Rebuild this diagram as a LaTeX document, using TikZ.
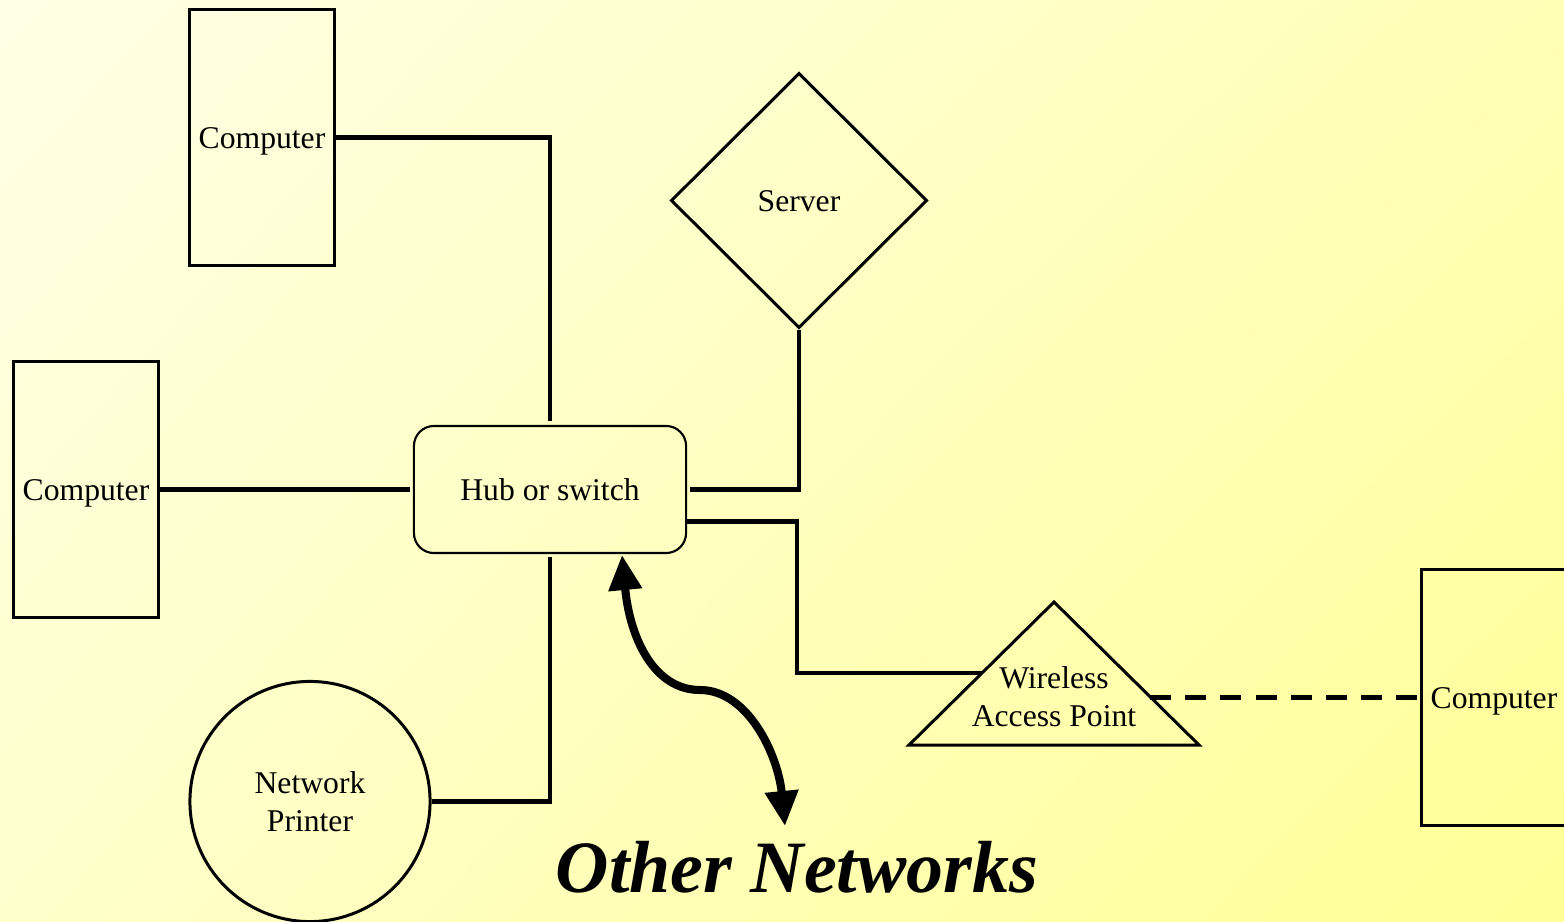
\documentclass[tikz,border=0pt]{standalone}
\usepackage{fontspec}
\setmainfont{Liberation Serif}
\usetikzlibrary{shapes.geometric,shadings,arrows.meta,positioning,calc}
\definecolor{bgpale}{RGB}{255,255,230}
\definecolor{bgtopr}{RGB}{255,255,182}
\definecolor{bgbotl}{RGB}{255,255,204}
\definecolor{bgyellow}{RGB}{255,255,150}

\begin{document}
\begin{tikzpicture}[x=0.01cm,y=-0.01cm,
    txt/.style={font=\fontsize{9}{10.8}\selectfont,align=center},
    oneline/.style={txt,text height=8pt,text depth=2pt},
    pcbox/.style={oneline,draw,line width=0.85pt,minimum width=1.44cm,minimum height=2.55cm,inner sep=0pt},
    link/.style={line width=1.2pt},
    >={Triangle[width=0.32cm,length=0.35cm]}]
  \clip (0,0) rectangle (1564,921);
  % background
  \shade[upper left=bgpale,upper right=bgtopr,lower left=bgbotl,lower right=bgyellow] (0,0) rectangle (1564,921);
  % devices
  \node[pcbox] (pc1) at (262,137.5) {Computer};
  \node[pcbox] (pc2) at (86,489.5) {Computer};
  \node[pcbox] (pc3) at (1494,697.5) {Computer};
  \node[oneline,draw,diamond,line width=0.85pt,minimum width=2.56cm,minimum height=2.55cm,inner sep=0pt] (server) at (799,200.5) {Server};
  \node[oneline,draw,rounded corners=0.2cm,line width=0.6pt,minimum width=2.72cm,minimum height=1.27cm] (hub) at (550,489.5) {Hub or switch};
  \node[txt,draw,circle,line width=0.85pt,minimum size=2.4cm,inner sep=0pt] (printer) at (310,801.5) {Network\\Printer};
  % wireless access point
  \draw[line width=0.85pt] (1054,602) -- (1199,745) -- (909,745) -- cycle;
  \node[txt,inner sep=0pt] (wap) at (1054,697) {Wireless\\Access Point};
  \coordinate (wapw) at (982,673);
  \coordinate (wape) at (1150,697.5);
  % cables
  \draw[link] (pc1.east) -| ([yshift=0.04cm]hub.north);
  \draw[link] (pc2.east) -- ([xshift=-0.03cm]hub.west);
  \draw[link] (printer.east) -| ([yshift=-0.03cm]hub.south);
  \draw[link] ([xshift=0.03cm]hub.east) -| (server.south);
  \draw[link] ([yshift=-0.32cm]hub.east) -- ++(110,0) |- (wapw);
  \draw[link,dash pattern=on 6pt off 4pt] (wape) -- (pc3.west);
  % uplink
  \coordinate (nettop) at (622,555);
  \coordinate (netbot) at (785,826);
  \draw[line width=2.3pt,<->] (nettop) .. controls (630,640) and (655,690) .. (700,690)
    .. controls (748,690) and (778,755) .. (netbot);
  \node[font=\fontsize{21}{25}\selectfont\bfseries\itshape] (other) at (797,867) {Other Networks};
\end{tikzpicture}
\end{document}
